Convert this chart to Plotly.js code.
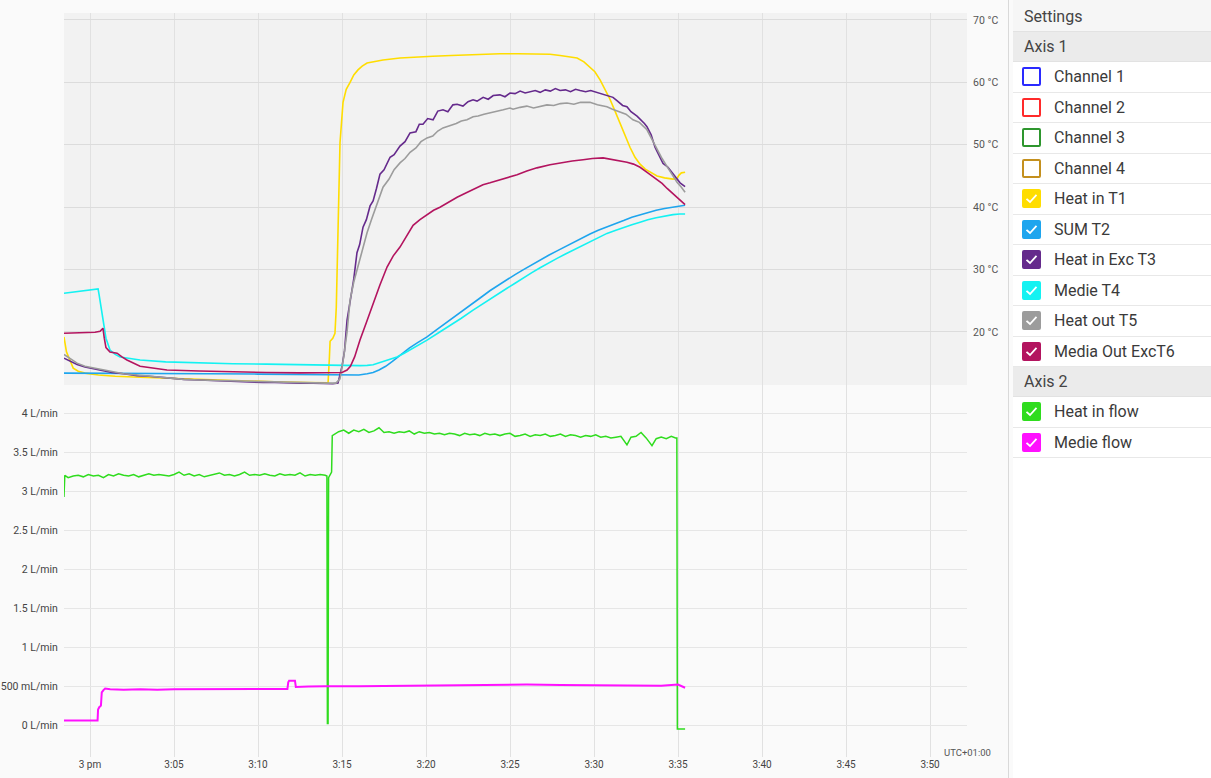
<!DOCTYPE html>
<html>
<head>
<meta charset="utf-8">
<script src="https://cdn.plot.ly/plotly-3.0.1.min.js"></script>
<style>
  html, body { margin:0; padding:0; background:#fafafa; width:1211px; height:778px; overflow:hidden; font-family: Roboto, "Noto Sans", Arial, sans-serif; }
  #chart { position:absolute; left:0; top:0; width:1211px; height:778px; }
  #divider { position:absolute; left:1008px; top:0; width:1px; height:778px; background:#d9d9d9; }
  #panel { position:absolute; left:1013px; top:0; width:198px; height:778px; background:#ffffff; }
  .hdr { height:29px; line-height:29px; padding-left:11px; font-size:16px; color:#444; background:#ebebeb; border-bottom:1px solid #e2e2e2; }
  .hdr.top { background:#f6f6f6; height:31px; line-height:33px; }
  .row { position:relative; height:29.5px; border-bottom:1px solid #e8e8e8; background:#fff; }
  .box { position:absolute; left:9px; top:5px; width:15px; height:15px; border:2px solid; border-radius:2px; box-sizing:content-box; }
  .box svg { position:absolute; left:0; top:0; }
  .lbl { position:absolute; left:41px; top:0; line-height:30px; font-size:16px; color:#3a3a3a; }
</style>
</head>
<body>
<div id="chart"></div>
<div id="divider"></div>
<div id="panel"></div>
<script>
// ---- time axis (minutes after 3 pm) ----
const xTickVals = [0, 5, 10, 15, 20, 25, 30, 35, 40, 45, 50];
const xTickText = ['3 pm', '3:05', '3:10', '3:15', '3:20', '3:25', '3:30', '3:35', '3:40', '3:45', '3:50'];

// ---- Axis 1 (°C) ----
const tempTickVals = [20, 30, 40, 50, 60, 70];
const tempTickText = ['20 °C', '30 °C', '40 °C', '50 °C', '60 °C', '70 °C'];

// ---- Axis 2 (flow) ----
const flowTickVals = [0, 0.5, 1, 1.5, 2, 2.5, 3, 3.5, 4];
const flowTickText = ['0 L/min', '500 mL/min', '1 L/min', '1.5 L/min', '2 L/min', '2.5 L/min', '3 L/min', '3.5 L/min', '4 L/min'];

// Heat in T1
const t1Time = [-1.55,-1.4,-1.2,-1.0,-0.7,-0.3,0.5,1.5,3,5, 7,9,11,13,14.17,14.25,14.29,14.45,14.58,14.66,
  14.7,14.76,14.88,15.06,15.25,15.48,15.7,15.95,16.2,16.49, 17.0,17.44,18.45,19.5,20.4,21.5,22.4,23.5,24.4,25.5,
  26.4,26.8,27.38,27.98,28.4,28.99,29.4,29.76,30.05,30.36, 30.65,30.95,31.25,31.55,31.85,32.14,32.44,32.74,33.05,33.4,
  33.75,34.2,34.7,34.94,35.05,35.2,35.42];
const t1Vals = [19.2,16.8,15.5,14.2,13.7,13.4,13.1,12.9,12.75,12.55, 12.35,12.15,12.0,11.9,11.85,16.0,18.5,19.0,19.8,24.0,
  30.0,35.9,50.3,56.8,58.9,60.0,61.2,62.0,62.6,63.1, 63.4,63.6,63.9,64.1,64.2,64.3,64.4,64.5,64.6,64.6,
  64.6,64.6,64.5,64.3,64.1,63.9,63.3,62.5,61.7,60.4, 58.9,57.3,55.4,53.5,51.4,49.6,48.0,46.9,46.1,45.5,
  45.0,44.7,44.5,44.6,45.1,45.5,45.6];

// SUM T2
const t2Time = [-1.55,1,4,7,10,13,14.88,15.5,16.0,16.5, 16.85,17.2,17.6,18.0,18.27,18.7,19.0,19.5,20.06,20.7,
  21.43,22.1,22.8,23.3,23.8,24.3,24.82,25.3,25.8,26.3, 26.79,27.3,27.8,28.3,28.75,29.25,29.76,30.25,30.77,31.3,
  31.8,32.25,32.74,33.2,33.7,34.2,34.7,35.1,35.42];
const t2Vals = [13.4,13.4,13.35,13.3,13.25,13.2,13.1,13.05,13.1,13.3, 13.5,13.9,14.5,15.3,15.9,16.8,17.4,18.3,19.2,20.5,
  21.9,23.2,24.5,25.6,26.6,27.5,28.3,29.2,30.0,30.8, 31.5,32.3,33.0,33.7,34.4,35.0,35.7,36.3,36.8,37.4,
  37.9,38.4,38.8,39.1,39.5,39.8,40.0,40.2,40.3];

// Heat in Exc T3
const t3Time = [-1.55,-1.2,-0.77,-0.3,0.6,1.3,2,2.8,3.5,4.2, 4.76,5.6,6.5,7.3,8,8.8,9.52,10.3,11,11.8,
  12.5,13.3,14.0,14.46,14.76,15.0,15.15,15.3,15.5,15.7, 15.89,16.05,16.25,16.45,16.67,16.85,17.05,17.26,17.5,17.86,
  18.1,18.45,18.75,19.05,19.4,19.6,19.82,20.1,20.42,20.7, 21.01,21.3,21.6,21.85,22.2,22.5,22.8,23.04,23.4,23.7,
  24.0,24.4,24.7,25.0,25.3,25.6,25.9,26.2,26.5,26.79, 27.1,27.4,27.7,27.98,28.3,28.6,28.9,29.17,29.5,29.8,
  30.18,30.5,30.8,31.13,31.4,31.7,31.96,32.2,32.56,32.8, 33.0,33.15,33.4,33.63,33.9,34.11,34.4,34.64,34.9,35.12,
  35.42];
const t3Vals = [15.8,15.4,14.8,14.4,13.9,13.5,13.3,13.0,12.9,12.7, 12.6,12.4,12.3,12.2,12.1,12.1,12.0,11.9,11.9,11.8,
  11.8,11.8,11.75,11.7,11.8,14.5,17.0,21.9,25.2,28.5, 32.7,34.0,36.8,38.0,40.2,41.0,43.0,45.3,46.0,48.0,
  48.4,49.8,50.5,51.9,52.1,53.3,53.3,54.2,54.0,55.4, 55.6,55.3,56.4,56.5,56.2,56.9,57.2,57.0,57.6,57.3,
  57.9,58.0,57.7,58.3,58.2,58.6,58.3,58.5,58.7,58.4, 58.8,58.6,59.0,58.7,58.8,58.5,58.9,58.7,58.5,58.7,
  58.4,58.1,57.8,57.6,57.0,56.3,56.1,55.3,54.6,54.0, 53.4,52.9,51.6,49.6,48.2,47.0,46.4,45.5,44.6,43.9,
  43.3];

// Medie T4
const t4Time = [-1.55,0.48,0.54,0.65,0.77,0.95,1.19,1.5,1.79,2.4, 2.98,4.5,6.55,8.5,10.5,12.5,14.46,16.07,16.5,16.85,
  17.26,17.7,18.27,18.7,19.3,20.06,20.7,21.43,22.1,22.8, 23.3,23.8,24.3,24.82,25.3,25.8,26.3,26.79,27.3,27.8,
  28.3,28.75,29.25,29.76,30.25,30.77,31.3,31.8,32.25,32.74, 33.2,33.7,34.2,34.7,35.1,35.42];
const t4Vals = [26.2,26.9,26.0,24.0,21.9,19.0,17.1,16.4,16.0,15.7, 15.5,15.2,15.0,14.9,14.85,14.75,14.6,14.6,14.65,14.75,
  15.1,15.5,16.0,16.6,17.5,18.7,19.8,21.0,22.2,23.5, 24.4,25.3,26.2,27.0,27.8,28.7,29.5,30.3,31.1,31.8,
  32.5,33.1,33.8,34.5,35.2,35.8,36.3,36.8,37.2,37.6, 38.0,38.3,38.6,38.8,38.9,38.9];

// Heat out T5
const t5Time = [-1.55,-1.2,-0.77,-0.3,0.6,1.3,2,2.8,3.5,4.2, 4.76,5.6,6.5,7.3,8,8.8,9.52,10.3,11,11.8,
  12.5,13.3,14.0,14.64,14.88,15.1,15.3,15.48,15.7,16.0, 16.25,16.49,16.75,17.0,17.2,17.44,17.8,18.1,18.45,18.75,
  19.05,19.4,19.7,20.06,20.4,20.7,21.01,21.4,21.8,22.1, 22.44,22.8,23.1,23.45,23.81,24.2,24.6,25.0,25.18,25.6,
  26.0,26.4,26.79,27.2,27.6,28.0,28.39,28.8,29.2,29.76, 30.2,30.77,31.1,31.55,31.9,32.32,32.7,33.15,33.45,33.75,
  34.05,34.35,34.65,34.94,35.2,35.42];
const t5Vals = [16.4,15.8,15.0,14.5,14.0,13.6,13.3,13.1,12.9,12.7, 12.6,12.4,12.3,12.25,12.2,12.1,12.0,12.0,11.9,11.9,
  11.9,11.85,11.8,11.8,12.5,16.0,20.0,25.1,28.0,31.0, 33.6,35.9,38.0,40.0,41.5,43.2,44.5,46.0,47.1,47.8,
  48.8,49.5,50.5,51.1,51.4,52.2,52.7,53.0,53.4,53.8, 54.0,54.5,54.6,54.9,55.1,55.3,55.6,55.9,55.7,56.0,
  56.2,55.9,56.1,56.4,56.3,56.6,56.7,56.5,56.8,56.8, 56.4,56.1,55.7,55.3,54.9,54.0,53.6,52.4,50.8,49.2,
  47.8,46.5,45.3,44.0,43.2,42.4];

// Media Out ExcT6
const t6Time = [-1.55,-0.5,0.3,0.6,0.77,0.85,0.95,1.19,1.61,1.9, 2.2,2.98,3.8,4.58,6.5,8.51,10.5,12.5,14.46,15.0,
  15.3,15.5,15.75,16.07,16.45,16.85,17.25,17.68,18.05,18.45, 18.85,19.23,19.64,20.06,20.45,20.83,21.43,21.85,22.4,22.8,
  23.39,23.81,24.58,25.0,25.42,26.0,26.6,27.38,28.0,28.7, 29.35,29.9,30.54,31.0,31.55,31.96,32.35,32.74,33.2,33.75,
  34.05,34.35,34.65,34.94,35.2,35.42];
const t6Vals = [19.8,19.85,19.95,20.1,20.6,19.0,17.5,16.8,16.6,16.0, 15.5,14.5,14.2,13.9,13.75,13.6,13.5,13.45,13.4,13.5,
  13.9,14.5,16.0,18.7,21.5,24.6,27.5,30.4,32.2,33.6, 35.4,37.1,38.0,38.8,39.5,40.0,41.0,41.6,42.3,42.8,
  43.6,43.9,44.5,44.9,45.2,45.8,46.3,46.8,47.1,47.4, 47.6,47.8,47.9,47.7,47.5,47.2,46.9,46.4,45.5,44.4,
  43.8,43.0,42.3,41.5,41.0,40.4];

// Heat in flow (L/min)
const flowHeatTime = [-1.55,-1.5,-1.3,-1.0,-0.7,-0.4,-0.1,0.2,0.5,0.8, 1.1,1.4,1.7,2.0,2.3,2.6,2.9,3.2,3.5,3.8,
  4.1,4.4,4.7,5.0,5.3,5.6,5.9,6.2,6.5,6.8, 7.1,7.4,7.7,8.0,8.3,8.6,8.9,9.2,9.5,9.8,
  10.1,10.4,10.7,11.0,11.3,11.6,11.9,12.2,12.5,12.8, 13.1,13.4,13.7,14.0,14.1,14.13,14.17,14.2,14.32,14.38,
  14.42,14.55,14.8,15.1,15.4,15.7,16.0,16.3,16.6,16.9, 17.2,17.5,17.8,18.1,18.4,18.7,19.0,19.3,19.6,19.9,
  20.2,20.5,20.8,21.1,21.4,21.7,22.0,22.3,22.6,22.9, 23.2,23.5,23.8,24.1,24.4,24.7,25.0,25.3,25.6,25.9,
  26.2,26.5,26.8,27.1,27.4,27.7,28.0,28.3,28.6,28.9, 29.2,29.5,29.8,30.1,30.4,30.7,31.0,31.3,31.6,31.96,
  32.2,32.5,32.8,33.1,33.45,33.7,34.0,34.3,34.6,34.85, 34.93,34.96,35.42];
const flowHeatVals = [2.93,3.21,3.18,3.20,3.21,3.19,3.22,3.20,3.21,3.18, 3.22,3.20,3.23,3.21,3.20,3.22,3.19,3.21,3.23,3.21,
  3.22,3.21,3.20,3.22,3.25,3.21,3.23,3.20,3.22,3.19, 3.21,3.22,3.24,3.21,3.22,3.20,3.22,3.25,3.21,3.22,
  3.21,3.23,3.21,3.20,3.23,3.21,3.22,3.21,3.24,3.20, 3.22,3.21,3.22,3.21,3.20,0.02,0.02,3.18,3.22,3.25,
  3.72,3.74,3.77,3.79,3.75,3.79,3.77,3.80,3.76,3.78, 3.82,3.76,3.77,3.75,3.77,3.76,3.78,3.74,3.77,3.75,
  3.76,3.74,3.75,3.73,3.75,3.74,3.72,3.75,3.73,3.74, 3.72,3.75,3.73,3.74,3.72,3.74,3.75,3.71,3.72,3.74,
  3.71,3.73,3.72,3.74,3.71,3.72,3.74,3.71,3.73,3.72, 3.70,3.72,3.71,3.73,3.70,3.71,3.69,3.70,3.71,3.60,
  3.70,3.71,3.76,3.69,3.59,3.68,3.70,3.68,3.71,3.69, 3.69,-0.05,-0.05];

// Medie flow (L/min)
const flowMedieTime = [-1.55,0.45,0.48,0.55,0.65,0.7,0.8,0.9,1.2,2, 3,4,5,6,7,8,9,10,11,11.75,
  11.8,11.85,12.2,12.25,13,14,16,18,20,22, 24,26,28,30,32,34,35,35.2,35.42];
const flowMedieVals = [0.06,0.06,0.2,0.23,0.25,0.42,0.45,0.47,0.46,0.455, 0.46,0.455,0.46,0.46,0.465,0.46,0.465,0.465,0.46,0.465,
  0.55,0.57,0.57,0.49,0.495,0.5,0.5,0.505,0.51,0.515, 0.52,0.52,0.515,0.51,0.51,0.505,0.52,0.5,0.48];

// ---- series / legend definitions ----
const axis1Names = ['Channel 1','Channel 2','Channel 3','Channel 4','Heat in T1','SUM T2','Heat in Exc T3','Medie T4','Heat out T5','Media Out ExcT6'];
const axis1Colors = ['#2a2aff','#ff2a2a','#2e962e','#c4901e','#ffdd00','#1ea5ee','#652a8c','#14f2f2','#9c9c9c','#b3145f'];
const axis1Checked = [false,false,false,false,true,true,true,true,true,true];
const axis2Names = ['Heat in flow','Medie flow'];
const axis2Colors = ['#2fdc1e','#ff10ff'];
const axis2Checked = [true, true];

const tempSeries = [
  null, null, null, null,
  [t1Time, t1Vals], [t2Time, t2Vals], [t3Time, t3Vals], [t4Time, t4Vals], [t5Time, t5Vals], [t6Time, t6Vals]
];
const flowSeries = [[flowHeatTime, flowHeatVals], [flowMedieTime, flowMedieVals]];

const traces = [];
tempSeries.forEach((s, i) => {
  if (!s) return;
  traces.push({ type:'scatter', mode:'lines', name:axis1Names[i], x:s[0], y:s[1],
    xaxis:'x', yaxis:'y', line:{ color:axis1Colors[i], width:1.6 }, hoverinfo:'skip' });
});
flowSeries.forEach((s, i) => {
  traces.push({ type:'scatter', mode:'lines', name:axis2Names[i], x:s[0], y:s[1],
    xaxis:'x', yaxis:'y2', line:{ color:axis2Colors[i], width: i === 1 ? 2 : 1.5 }, hoverinfo:'skip' });
});

const layout = {
  width:1211, height:778,
  margin:{ l:64, r:244, t:13, b:21 },
  paper_bgcolor:'#fafafa', plot_bgcolor:'#fafafa',
  showlegend:false,
  font:{ family:'Roboto, Arial, sans-serif', color:'#444' },
  xaxis:{ range:[-1.548, 52.2], anchor:'y2', tickmode:'array', tickvals:xTickVals, ticktext:xTickText,
    showgrid:true, gridcolor:'#e1e1e1', gridwidth:1, zeroline:false, showline:false, ticks:'',
    tickfont:{ size:10, color:'#444' }, fixedrange:true },
  yaxis:{ domain:[0.5, 1], range:[11.5, 71.12], side:'right', anchor:'x', tickmode:'array',
    tickvals:tempTickVals, ticktext:tempTickText, showgrid:true, gridcolor:'#dcdcdc', zeroline:false,
    showline:false, ticks:'outside', ticklen:3, tickcolor:'rgba(0,0,0,0)',
    tickfont:{ size:10.5, color:'#555' }, fixedrange:true },
  yaxis2:{ domain:[0, 0.5], range:[-0.41, 4.37], anchor:'x', tickmode:'array',
    tickvals:flowTickVals, ticktext:flowTickText, showgrid:true, gridcolor:'#e6e6e6', zeroline:false,
    showline:false, ticks:'outside', ticklen:3, tickcolor:'rgba(0,0,0,0)',
    tickfont:{ size:10.5, color:'#444' }, fixedrange:true },
  shapes:[{ type:'rect', xref:'x domain', yref:'y domain', x0:0, x1:1, y0:0, y1:1,
    fillcolor:'#f2f2f2', line:{ width:0 }, layer:'below' }],
  annotations:[{ text:'UTC+01:00', xref:'paper', yref:'paper', x:1.0, y:0.0067,
    xanchor:'center', yanchor:'middle', showarrow:false, font:{ size:9.5, color:'#555' } }]
};

Plotly.newPlot('chart', traces, layout, { displayModeBar:false, staticPlot:true });

// ---- settings panel (legend) ----
const panel = document.getElementById('panel');
function addHeader(text, cls) {
  const d = document.createElement('div');
  d.className = 'hdr' + (cls ? ' ' + cls : '');
  d.textContent = text;
  panel.appendChild(d);
}
function addRow(name, color, checked) {
  const r = document.createElement('div');
  r.className = 'row';
  const b = document.createElement('div');
  b.className = 'box';
  b.style.borderColor = color;
  b.style.background = checked ? color : '#fff';
  if (checked) {
    b.innerHTML = '<svg width="15" height="15" viewBox="0 0 15 15"><polyline points="2.5,7.8 6,11 12.5,3.8" fill="none" stroke="#fff" stroke-width="1.8"/></svg>';
  }
  const l = document.createElement('div');
  l.className = 'lbl';
  l.textContent = name;
  r.appendChild(b); r.appendChild(l);
  panel.appendChild(r);
}
addHeader('Settings', 'top');
addHeader('Axis 1');
axis1Names.forEach((n, i) => addRow(n, axis1Colors[i], axis1Checked[i]));
addHeader('Axis 2');
axis2Names.forEach((n, i) => addRow(n, axis2Colors[i], axis2Checked[i]));
</script>
</body>
</html>
